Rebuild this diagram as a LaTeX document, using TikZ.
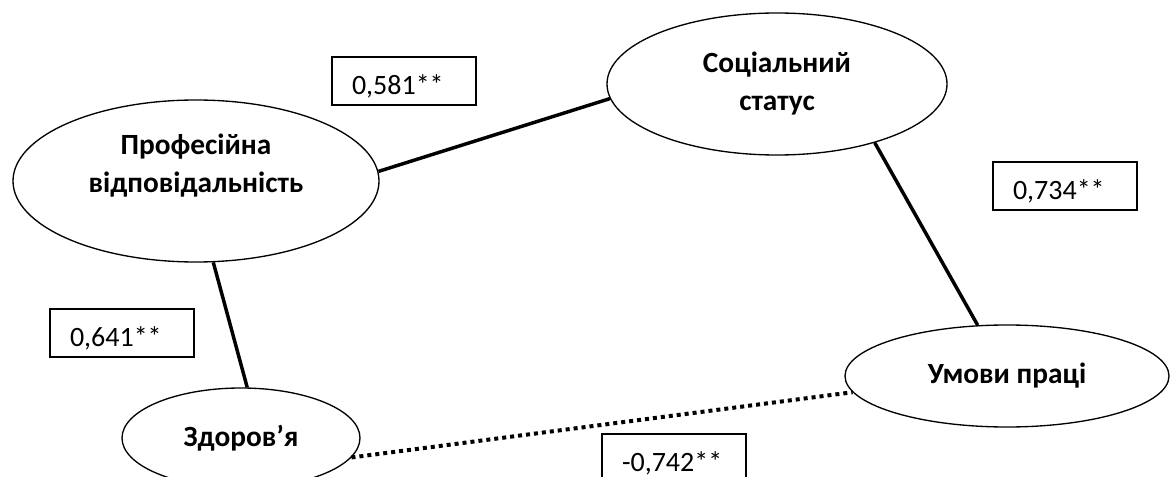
\documentclass[tikz,border=0pt]{standalone}
\usepackage{fontspec}
\setmainfont{Carlito}
\usetikzlibrary{shapes.geometric}

% text block lifted inside its ellipse, size kept
\newcommand{\liftlines}[2]{\raisebox{#1}[\height][\depth]{\begin{tabular}{@{}c@{}}#2\end{tabular}}}

\begin{document}
\begin{tikzpicture}[x=0.75pt,y=-0.75pt,
    factor/.style={draw,ellipse,line width=1pt,inner sep=0pt,align=center,
      font=\fontsize{22}{28.5}\selectfont\bfseries},
    coef/.style={draw,rectangle,line width=1pt,inner xsep=15pt,text width=78pt,
      align=left,minimum height=36pt,text height=20pt,text depth=0pt,
      font=\fontsize{21}{24}\selectfont},
    link/.style={line width=2.6pt},
    weak/.style={line width=3pt,dash pattern=on 3pt off 3pt}]
    \clip (0,0) rectangle (1170,477);

    \node[factor,minimum width=274.5pt,minimum height=121.5pt](prof)at(196,181){\liftlines{11pt}{Професійна\\відповідальність}};
    \node[factor,minimum width=255pt,minimum height=106.5pt](soc)at(777,84){Соціальний\\статус};
    \node[factor,minimum width=243pt,minimum height=76.5pt](umovy)at(1007,376){Умови праці};
    \node[factor,minimum width=178.5pt,minimum height=75pt](zdor)at(241,438){Здоров’я};

    \node[coef](r1)at(404,81){0,581**};
    \node[coef](r2)at(1065,186){0,734**};
    \node[coef](r3)at(122,333){0,641**};
    \node[coef](r4)at(674,458){-0,742**};

    \draw[link] (prof.3) to (soc.185);
    \draw[link] (soc.-31) to (umovy.120);
    \draw[link] (prof.-78) to (zdor.83);
    \draw[weak] (zdor.-10) to (umovy.186);
  \end{tikzpicture}
\end{document}
